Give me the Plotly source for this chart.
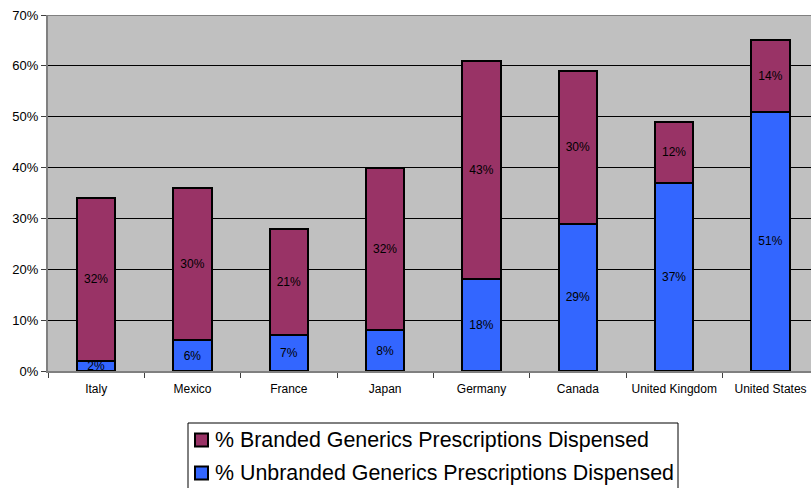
import plotly.graph_objects as go

countries = ["Italy", "Mexico", "France", "Japan", "Germany", "Canada", "United Kingdom", "United States"]
unbranded = [2, 6, 7, 8, 18, 29, 37, 51]
branded = [32, 30, 21, 32, 43, 30, 12, 14]
y_ticks = [0, 10, 20, 30, 40, 50, 60, 70]
series_names = ["% Branded Generics Prescriptions Dispensed", "% Unbranded Generics Prescriptions Dispensed"]
colors = {"branded": "#993366", "unbranded": "#3366FF"}

FONT = "Liberation Sans, Arial"
W, H = 811, 488
L, R, T, B = 48, 0, 15, 117
PW, PH = W - L - R, H - T - B


def px(x):
    return (x - L) / PW


def py(y):
    return (H - B - y) / PH


fig = go.Figure()
fig.add_trace(go.Bar(
    x=countries, y=unbranded, name=series_names[1],
    marker=dict(color=colors["unbranded"], line=dict(color="black", width=2)),
    text=[f"{v}%" for v in unbranded], texttemplate="%{text}",
    textposition="inside", insidetextanchor="middle", textangle=0,
    textfont=dict(color="black", size=12, family=FONT),
    width=0.4, showlegend=False,
))
fig.add_trace(go.Bar(
    x=countries, y=branded, name=series_names[0],
    marker=dict(color=colors["branded"], line=dict(color="black", width=2)),
    text=[f"{v}%" for v in branded], texttemplate="%{text}",
    textposition="inside", insidetextanchor="middle", textangle=0,
    textfont=dict(color="black", size=12, family=FONT),
    width=0.4, showlegend=False,
))

fig.update_layout(
    barmode="stack",
    width=W, height=H,
    margin=dict(l=L, r=R, t=T, b=B, autoexpand=False),
    paper_bgcolor="white",
    plot_bgcolor="#C0C0C0",
    font=dict(family=FONT, color="black", size=12),
    uniformtext=dict(minsize=12, mode="show"),
    xaxis=dict(
        type="category", range=[-0.5, 7.42],
        showline=True, linecolor="#808080", linewidth=2,
        ticks="outside", tickson="boundaries", ticklen=5, tickcolor="#404040",
        tickfont=dict(size=12), tickangle=0, automargin=False,
        showgrid=False, ticklabelstandoff=6,
    ),
    yaxis=dict(
        range=[0, 70], tickvals=y_ticks, ticktext=[f"{v}%" for v in y_ticks],
        showgrid=True, gridcolor="black", gridwidth=1,
        showline=True, linecolor="#808080", linewidth=2,
        ticks="outside", ticklen=5, tickcolor="#404040",
        tickfont=dict(size=13), zeroline=False, automargin=False,
    ),
)
# top border of plot area
fig.add_shape(type="line", xref="paper", yref="y", x0=0, x1=1, y0=70, y1=70,
              line=dict(color="#808080", width=2), layer="above")

# legend box drawn manually
fig.add_shape(type="rect", xref="paper", yref="paper",
              x0=px(188), x1=px(678), y0=py(423), y1=py(500),
              line=dict(color="black", width=1), fillcolor="white")
legend_rows = [(series_names[0], colors["branded"], 440), (series_names[1], colors["unbranded"], 473)]
for name, col, yc in legend_rows:
    fig.add_shape(type="rect", xref="paper", yref="paper",
                  x0=px(195), x1=px(208), y0=py(yc - 6.5), y1=py(yc + 6.5),
                  line=dict(color="black", width=2), fillcolor=col)
    fig.add_annotation(xref="paper", yref="paper", x=px(213), y=py(yc),
                       xanchor="left", yanchor="middle", text=name, showarrow=False,
                       font=dict(size=21.4, family=FONT, color="black"))

fig.write_html("out.html")
